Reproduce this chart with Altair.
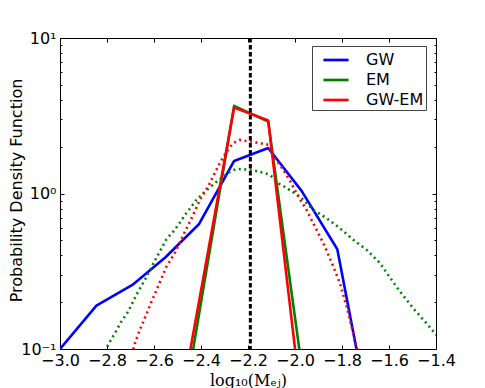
import altair as alt
import pandas as pd

# ---- data ----
gw_x = [-3.0, -2.845, -2.692, -2.551, -2.408, -2.259, -2.114, -1.972, -1.820, -1.672]
gw_y = [0.1, 0.19, 0.258, 0.389, 0.637, 1.62, 1.96, 1.04, 0.438, 0.03]

em_x = [-2.551, -2.259, -2.114, -1.972]
em_y = [0.0088, 3.66, 2.90, 0.078]

gwem_x = [-2.551, -2.259, -2.114, -1.972]
gwem_y = [0.013, 3.57, 2.95, 0.044]

em_kde_x = [-2.82, -2.796, -2.767, -2.739, -2.710, -2.675, -2.639, -2.600, -2.547, -2.512,
            -2.462, -2.419, -2.377, -2.334, -2.277, -2.249, -2.192, -2.150, -2.107, -2.065,
            -2.050, -1.979, -1.922, -1.865, -1.809, -1.752, -1.695, -1.638, -1.596, -1.553,
            -1.497, -1.440, -1.404, -1.38]
em_kde_y = [0.082, 0.106, 0.126, 0.150, 0.174, 0.223, 0.278, 0.361, 0.508, 0.583,
            0.748, 0.910, 1.05, 1.19, 1.38, 1.44, 1.42, 1.38, 1.32, 1.15,
            1.12, 0.955, 0.785, 0.693, 0.598, 0.504, 0.434, 0.356, 0.288, 0.234,
            0.183, 0.146, 0.126, 0.115]

gwem_kde_x = [-2.70, -2.682, -2.661, -2.639, -2.611, -2.583, -2.547, -2.512, -2.476, -2.434,
              -2.405, -2.370, -2.348, -2.320, -2.291, -2.263, -2.235, -2.192, -2.150, -2.114,
              -2.086, -2.050, -2.022, -1.986, -1.951, -1.908, -1.873, -1.837, -1.809, -1.780,
              -1.752, -1.738, -1.72]
gwem_kde_y = [0.085, 0.108, 0.132, 0.158, 0.201, 0.252, 0.339, 0.413, 0.537, 0.724,
              0.910, 1.11, 1.29, 1.57, 1.86, 2.11, 2.21, 2.16, 2.11, 2.06,
              1.69, 1.42, 1.21, 0.955, 0.785, 0.583, 0.456, 0.339, 0.265, 0.187,
              0.126, 0.104, 0.075]

injected = [-2.19]

series_names = ["GW", "EM", "GW-EM"]
series_colors = ["#0000ff", "#008000", "#ff0000"]

x_ticks = [-3.0, -2.8, -2.6, -2.4, -2.2, -2.0, -1.8, -1.6, -1.4]
y_major = [0.1, 1, 10]
y_minor = [0.2, 0.3, 0.4, 0.5, 0.6, 0.7, 0.8, 0.9, 2, 3, 4, 5, 6, 7, 8, 9]


def df(xs, ys, name):
    return pd.DataFrame({"x": xs, "y": ys, "series": name})


FONT = "DejaVu Sans"
xscale = alt.Scale(domain=[-3.0, -1.4], nice=False, zero=False)
yscale = alt.Scale(type="log", domain=[0.1, 10], nice=False)
cscale = alt.Scale(domain=series_names, range=series_colors)

legend = alt.Legend(
    orient="none", legendX=252, legendY=8, title=None,
    symbolType="M-1.2,0H1.2", symbolSize=441, symbolStrokeWidth=2.7,
    symbolOffset=10, labelOffset=18, rowPadding=0, padding=2,
    labelFont=FONT, labelFontSize=16, labelColor="black",
    strokeColor="#444444", fillColor="white", cornerRadius=0,
)


def tick_axis(orient, size, values=None):
    kw = dict(orient=orient, labels=False, domain=False, grid=False, ticks=True,
              tickSize=size, offset=-size, tickColor="black", tickWidth=1, title=None)
    if values is not None:
        kw["values"] = values
    return alt.Axis(**kw)


x_label_axis = alt.Axis(
    orient="bottom", values=x_ticks, format=".1f", ticks=False, domain=False, grid=False,
    labelFont=FONT, labelFontSize=16, labelColor="black", labelPadding=3, labelFlush=False,
    title="log₁₀(Mₑⱼ)", titleFont="DejaVu Serif", titleFontSize=16, titleFontWeight="normal",
    titleColor="black", titleY=31, titleBaseline="middle",
)
y_label_axis = alt.Axis(
    orient="left", values=y_major, ticks=False, domain=False, grid=False,
    labelExpr="datum.value >= 5 ? '10¹' : datum.value >= 0.5 ? '10⁰' : '10⁻¹'",
    labelFont=FONT, labelFontSize=16, labelColor="black", labelPadding=4, labelFlush=False,
    title="Probability Density Function", titleFont=FONT, titleFontSize=16,
    titleFontWeight="normal", titleColor="black", titleX=-44, titleY=152,
    titleAngle=270, titleAlign="center", titleBaseline="middle",
)

solid = dict(strokeWidth=2.6, clip=True, strokeJoin="round")
dotted = dict(strokeWidth=2.6, clip=True, strokeDash=[2, 3.5], strokeCap="butt")

l_gw = alt.Chart(df(gw_x, gw_y, "GW")).mark_line(**solid).encode(
    x=alt.X("x:Q", scale=xscale, axis=x_label_axis),
    y=alt.Y("y:Q", scale=yscale, axis=y_label_axis),
    color=alt.Color("series:N", scale=cscale, legend=legend),
)
l_em = alt.Chart(df(em_x, em_y, "EM")).mark_line(**solid).encode(
    x=alt.X("x:Q", scale=xscale, axis=tick_axis("bottom", 4, x_ticks)),
    y=alt.Y("y:Q", scale=yscale, axis=tick_axis("left", 4, y_major)),
    color=alt.Color("series:N", scale=cscale, legend=legend),
)
l_gwem = alt.Chart(df(gwem_x, gwem_y, "GW-EM")).mark_line(**solid).encode(
    x=alt.X("x:Q", scale=xscale, axis=tick_axis("top", 4, x_ticks)),
    y=alt.Y("y:Q", scale=yscale, axis=tick_axis("left", 2, y_minor)),
    color=alt.Color("series:N", scale=cscale, legend=legend),
)
l_em_kde = alt.Chart(df(em_kde_x, em_kde_y, "EM")).mark_line(color="#008000", **dotted).encode(
    x=alt.X("x:Q", scale=xscale, axis=None),
    y=alt.Y("y:Q", scale=yscale, axis=tick_axis("right", 4, y_major)),
)
l_gwem_kde = alt.Chart(df(gwem_kde_x, gwem_kde_y, "GW-EM")).mark_line(color="#ff0000", **dotted).encode(
    x=alt.X("x:Q", scale=xscale, axis=None),
    y=alt.Y("y:Q", scale=yscale, axis=tick_axis("right", 2, y_minor)),
)
l_inj = alt.Chart(pd.DataFrame({"x": injected})).mark_rule(
    color="black", strokeWidth=3, strokeDash=[4.5, 2.5]
).encode(x=alt.X("x:Q", scale=xscale, axis=None))

chart = (
    alt.layer(l_gw, l_em, l_gwem, l_em_kde, l_gwem_kde, l_inj)
    .resolve_axis(x="independent", y="independent")
    .properties(
        width=376, height=311,
        autosize=alt.AutoSizeParams(type="none"),
        padding={"left": 52, "top": 30, "right": 20, "bottom": 40},
        background="white",
    )
    .configure_view(stroke="black", strokeWidth=1)
)

chart.save("out.html", embed_options={"renderer": "svg", "actions": False})
